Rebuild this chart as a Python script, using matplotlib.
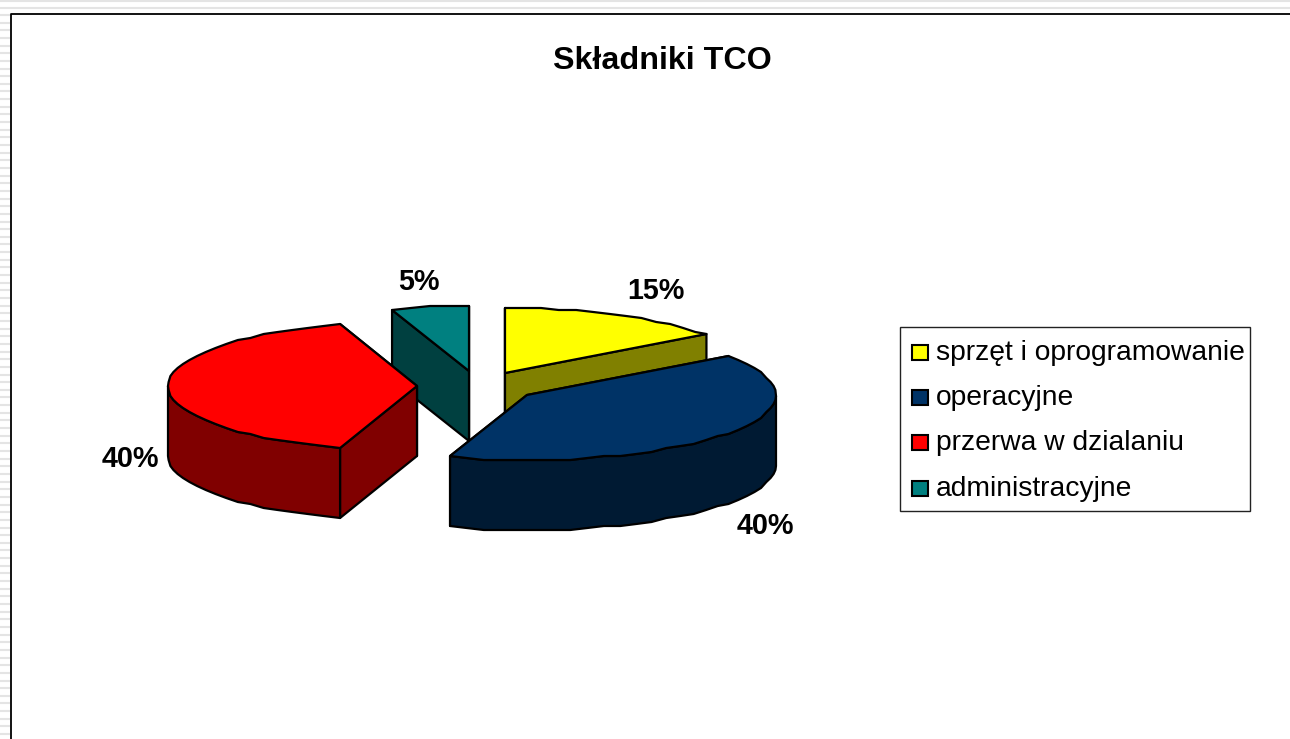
from matplotlib import pyplot as plt
from matplotlib.patches import Polygon, Rectangle
import numpy as np

title = "Składniki TCO"
categories = ["sprzęt i oprogramowanie", "operacyjne", "przerwa w dzialaniu", "administracyjne"]
values = [15, 40, 40, 5]
top_colors = ["#FFFF00", "#003366", "#FF0000", "#008080"]
wall_colors = ["#808000", "#001A33", "#800000", "#004040"]

# Apex of every exploded slice, in image pixels
centers = [(505, 373), (527, 395), (417, 386), (469, 371)]
label_pos = [(656, 291), (765, 526), (130, 459), (419, 282)]

RX, RY, DEPTH = 249, 65, 70
W, H = 1290, 739
LINE = 1.6


# Angles run clockwise from the top of the pie
def rim(cx, cy, a0, a1, step=4):
    n = max(int((a1 - a0) / step), 1) + 1
    t = np.radians(np.linspace(a0, a1, n))
    # the source picture has a slightly stepped outline
    return np.column_stack([cx + RX * np.sin(t), np.round((cy - RY * np.cos(t)) / 2) * 2])


def poly(ax, pts, color):
    ax.add_patch(Polygon(pts, closed=True, facecolor=color, edgecolor="black",
                         linewidth=LINE, joinstyle="round"))


def draw_slice(ax, center, a0, a1, top, wall):
    cx, cy = center
    drop = np.array([0, DEPTH])
    apex = np.array([[cx, cy]])

    # Cut faces, the one further back first
    edges = sorted([rim(cx, cy, a, a) for a in (a0, a1)], key=lambda e: e[0, 1])
    for edge in edges:
        poly(ax, np.vstack([apex, edge, edge + drop, apex + drop]), wall)

    # Outer face, front half only
    lo, hi = max(a0, 90), min(a1, 270)
    if lo < hi:
        arc = rim(cx, cy, lo, hi)
        poly(ax, np.vstack([arc, (arc + drop)[::-1]]), wall)

    poly(ax, np.vstack([apex, rim(cx, cy, a0, a1)]), top)


fig = plt.figure(figsize=(W / 100, H / 100), dpi=100)
ax = fig.add_axes([0, 0, 1, 1])
ax.set_xlim(0, W)
ax.set_ylim(H, 0)
ax.axis("off")
plt.rcParams["font.family"] = ["Liberation Sans", "DejaVu Sans"]

# Window frame left over from the slide
ax.axhline(0.8, color="#e4e4e4", linewidth=1.5)
ax.axhline(7.8, color="#e4e4e4", linewidth=1.5)
for y in np.arange(15, H, 7.65):
    ax.plot([0, 9], [y, y], color="#e4e4e4", linewidth=1.5)
ax.plot([10.5, 10.5, W], [H, 13.5, 13.5], color="black", linewidth=1.3)

ax.text(662, 61, title, fontsize=23.2, fontweight="bold", ha="center", va="center")

angles = np.cumsum([0] + values) * 360 / sum(values)
for i in (3, 0, 2, 1):
    draw_slice(ax, centers[i], angles[i], angles[i + 1], top_colors[i], wall_colors[i])

for value, (x, y) in zip(values, label_pos):
    ax.text(x, y, f"{value}%", fontsize=20.7, fontweight="bold", ha="center", va="center")

# Legend
ax.add_patch(Rectangle((900, 327), 350, 184, facecolor="white", edgecolor="#222222", linewidth=1))
rows = [352, 397, 442, 488]
for name, color, y in zip(categories, top_colors, rows):
    ax.add_patch(Rectangle((912, y - 7), 16, 15, facecolor=color, edgecolor="black", linewidth=1.5))
    ax.text(936, y + 1, name, fontsize=20.3, ha="left", va="center")

plt.savefig("out.png", dpi=100)
